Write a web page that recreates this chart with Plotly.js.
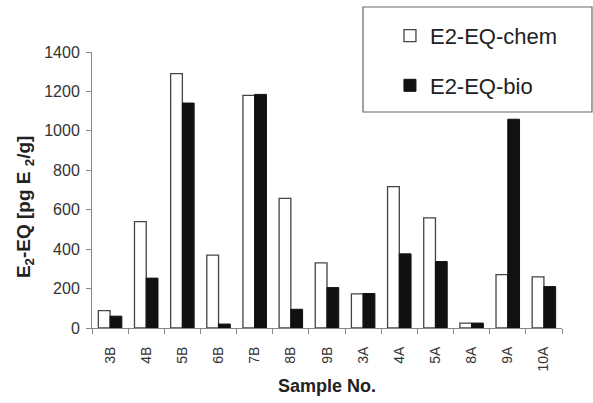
<!DOCTYPE html>
<html><head><meta charset="utf-8">
<script src="https://cdn.plot.ly/plotly-3.0.1.min.js"></script>
<style>html,body{margin:0;padding:0;background:#fff}#chart{width:593px;height:403px}</style>
</head><body><div id="chart"></div>
<script>
const samples = ["3B","4B","5B","6B","7B","8B","9B","3A","4A","5A","8A","9A","10A"];
const chemValues = [88, 540, 1290, 370, 1180, 658, 330, 173, 717, 559, 25, 271, 259];
const bioValues = [60, 253, 1141, 20, 1185, 95, 205, 175, 376, 337, 25, 1059, 210];
const seriesNames = ["E2-EQ-chem", "E2-EQ-bio"];
const yTitle = '<b>E<sub>2</sub>-EQ [pg E <sub>2</sub>/g]</b>';

const traces = [
  {type:'bar', x:samples, y:chemValues, name:seriesNames[0], legendgroup:'a',
   marker:{color:'#ffffff', line:{color:'#444', width:1.3}}},
  {type:'bar', x:samples, y:bioValues, name:seriesNames[1], legendgroup:'b',
   marker:{color:'#111111', line:{color:'#111', width:1}}}
];
const layout = {
  width:593, height:403,
  margin:{l:92, r:31, t:52, b:75, pad:0, autoexpand:false},
  paper_bgcolor:'#fff', plot_bgcolor:'#fff',
  font:{family:'"Liberation Sans", Arial, sans-serif', color:'#333', size:14},
  barmode:'group', bargap:0.35, bargroupgap:0,
  showlegend:true,
  legend:{xref:'container', yref:'container', x:0.6576, y:0.963, xanchor:'left', yanchor:'top',
          bgcolor:'rgba(0,0,0,0)', borderwidth:0,
          tracegroupgap:18, traceorder:'grouped', font:{size:22, color:'#222'}},
  xaxis:{type:'category', showline:true, linecolor:'#888', linewidth:1, ticks:'outside', ticklen:5,
         tickcolor:'#888', tickson:'boundaries', tickangle:-90, showgrid:false, zeroline:false,
         ticklabelstandoff:12,
         tickfont:{size:14, color:'#333'},
         title:{text:'<b>Sample No.</b>', font:{size:18, color:'#222'}, standoff:8}},
  yaxis:{range:[0,1400], dtick:200, showline:true, linecolor:'#888', linewidth:1, ticks:'outside', ticklen:5,
         tickcolor:'#888', showgrid:false, zeroline:false, ticklabelstandoff:3,
         tickfont:{size:16, color:'#333'}},
  annotations:[{text:yTitle, xref:'paper', yref:'paper', x:0, y:0.438, xanchor:'center', yanchor:'middle',
                xshift:-67, textangle:-90, showarrow:false, font:{size:19, color:'#222'}}],
  shapes:[{type:'rect', xref:'paper', yref:'paper', x0:0.5766, x1:1.0638, y0:0.7826, y1:1.163,
           line:{color:'#666', width:1.2}, fillcolor:'rgba(0,0,0,0)'}]
};
Plotly.newPlot('chart', traces, layout, {displayModeBar:false, staticPlot:true});
</script></body></html>
